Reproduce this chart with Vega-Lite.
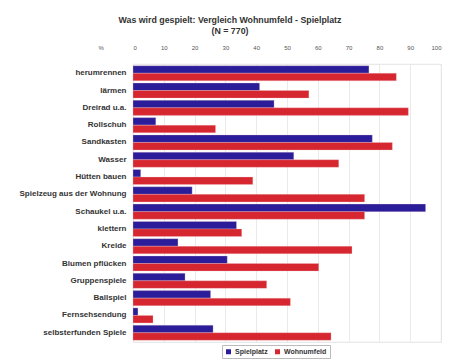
{
  "$schema": "https://vega.github.io/schema/vega-lite/v6.json",
  "autosize": {"type": "none"},
  "width": 308,
  "height": 278,
  "padding": {"left": 133, "top": 64, "right": 19, "bottom": 17},
  "background": "#ffffff",
  "title": {
    "text": ["Was wird gespielt: Vergleich Wohnumfeld - Spielplatz", "(N = 770)"],
    "anchor": "start",
    "frame": "group",
    "dx": 97,
    "offset": 8,
    "font": "Liberation Sans",
    "fontSize": 8.8,
    "fontWeight": "bold",
    "color": "#333333",
    "align": "center",
    "lineHeight": 11.5
  },
  "data": {
    "values": [
      {"cat": "herumrennen", "series": "Spielplatz", "value": 76.6},
      {"cat": "herumrennen", "series": "Wohnumfeld", "value": 85.5},
      {"cat": "lärmen", "series": "Spielplatz", "value": 41.1},
      {"cat": "lärmen", "series": "Wohnumfeld", "value": 57.1},
      {"cat": "Dreirad u.a.", "series": "Spielplatz", "value": 45.8},
      {"cat": "Dreirad u.a.", "series": "Wohnumfeld", "value": 89.4},
      {"cat": "Rollschuh", "series": "Spielplatz", "value": 7.4},
      {"cat": "Rollschuh", "series": "Wohnumfeld", "value": 26.8},
      {"cat": "Sandkasten", "series": "Spielplatz", "value": 77.7},
      {"cat": "Sandkasten", "series": "Wohnumfeld", "value": 84.2},
      {"cat": "Wasser", "series": "Spielplatz", "value": 52.2},
      {"cat": "Wasser", "series": "Wohnumfeld", "value": 66.8},
      {"cat": "Hütten bauen", "series": "Spielplatz", "value": 2.5},
      {"cat": "Hütten bauen", "series": "Wohnumfeld", "value": 38.9},
      {"cat": "Spielzeug aus der Wohnung", "series": "Spielplatz", "value": 19.2},
      {"cat": "Spielzeug aus der Wohnung", "series": "Wohnumfeld", "value": 75.2},
      {"cat": "Schaukel u.a.", "series": "Spielplatz", "value": 95.0},
      {"cat": "Schaukel u.a.", "series": "Wohnumfeld", "value": 75.2},
      {"cat": "klettern", "series": "Spielplatz", "value": 33.6},
      {"cat": "klettern", "series": "Wohnumfeld", "value": 35.3},
      {"cat": "Kreide", "series": "Spielplatz", "value": 14.6},
      {"cat": "Kreide", "series": "Wohnumfeld", "value": 71.1},
      {"cat": "Blumen pflücken", "series": "Spielplatz", "value": 30.6},
      {"cat": "Blumen pflücken", "series": "Wohnumfeld", "value": 60.3},
      {"cat": "Gruppenspiele", "series": "Spielplatz", "value": 16.9},
      {"cat": "Gruppenspiele", "series": "Wohnumfeld", "value": 43.4},
      {"cat": "Ballspiel", "series": "Spielplatz", "value": 25.2},
      {"cat": "Ballspiel", "series": "Wohnumfeld", "value": 51.1},
      {"cat": "Fernsehsendung", "series": "Spielplatz", "value": 1.6},
      {"cat": "Fernsehsendung", "series": "Wohnumfeld", "value": 6.5},
      {"cat": "selbsterfunden Spiele", "series": "Spielplatz", "value": 26.0},
      {"cat": "selbsterfunden Spiele", "series": "Wohnumfeld", "value": 64.3}
    ]
  },
  "mark": {"type": "bar", "stroke": "#f0c8cc", "strokeWidth": 0.3},
  "encoding": {
    "y": {
      "field": "cat",
      "type": "nominal",
      "sort": null,
      "title": null,
      "scale": {"paddingInner": 0.13, "paddingOuter": 0.1},
      "axis": {
        "labelFont": "Liberation Sans",
        "labelFontSize": 8,
        "labelFontWeight": "bold",
        "labelColor": "#333333",
        "labelPadding": 7,
        "ticks": false,
        "domain": false,
        "grid": false
      }
    },
    "yOffset": {
      "field": "series",
      "type": "nominal",
      "sort": ["Spielplatz", "Wohnumfeld"],
      "scale": {"paddingInner": 0, "paddingOuter": 0}
    },
    "x": {
      "field": "value",
      "type": "quantitative",
      "scale": {"domain": [0, 100], "nice": false},
      "title": "%",
      "axis": {
        "orient": "top",
        "values": [0, 10, 20, 30, 40, 50, 60, 70, 80, 90, 100],
        "labelFont": "Liberation Sans",
        "labelFontSize": 6,
        "labelColor": "#555555",
        "labelPadding": 14,
        "ticks": false,
        "domain": false,
        "grid": true,
        "gridColor": "#e4e4e4",
        "gridWidth": 0.8,
        "titleFont": "Liberation Sans",
        "titleFontSize": 6,
        "titleColor": "#555555",
        "titleFontWeight": "normal",
        "titleAnchor": "start",
        "titleBaseline": "middle",
        "titleX": -35,
        "titleY": -17,
        "titleAngle": 0
      }
    },
    "color": {
      "field": "series",
      "type": "nominal",
      "scale": {"domain": ["Spielplatz", "Wohnumfeld"], "range": ["#2b1d9a", "#d6262f"]},
      "legend": {
        "title": null,
        "orient": "none",
        "direction": "horizontal",
        "legendX": 89,
        "legendY": 281,
        "symbolType": "square",
        "symbolSize": 25,
        "symbolStrokeWidth": 0,
        "labelFont": "Liberation Sans",
        "labelFontSize": 7,
        "labelFontWeight": "bold",
        "labelColor": "#333333",
        "columnPadding": 6,
        "padding": 3,
        "strokeColor": "#bbbbbb",
        "fillColor": "#ffffff",
        "labelOffset": 3
      }
    }
  },
  "config": {
    "view": {"stroke": "#dddddd", "strokeWidth": 0.8}
  }
}
